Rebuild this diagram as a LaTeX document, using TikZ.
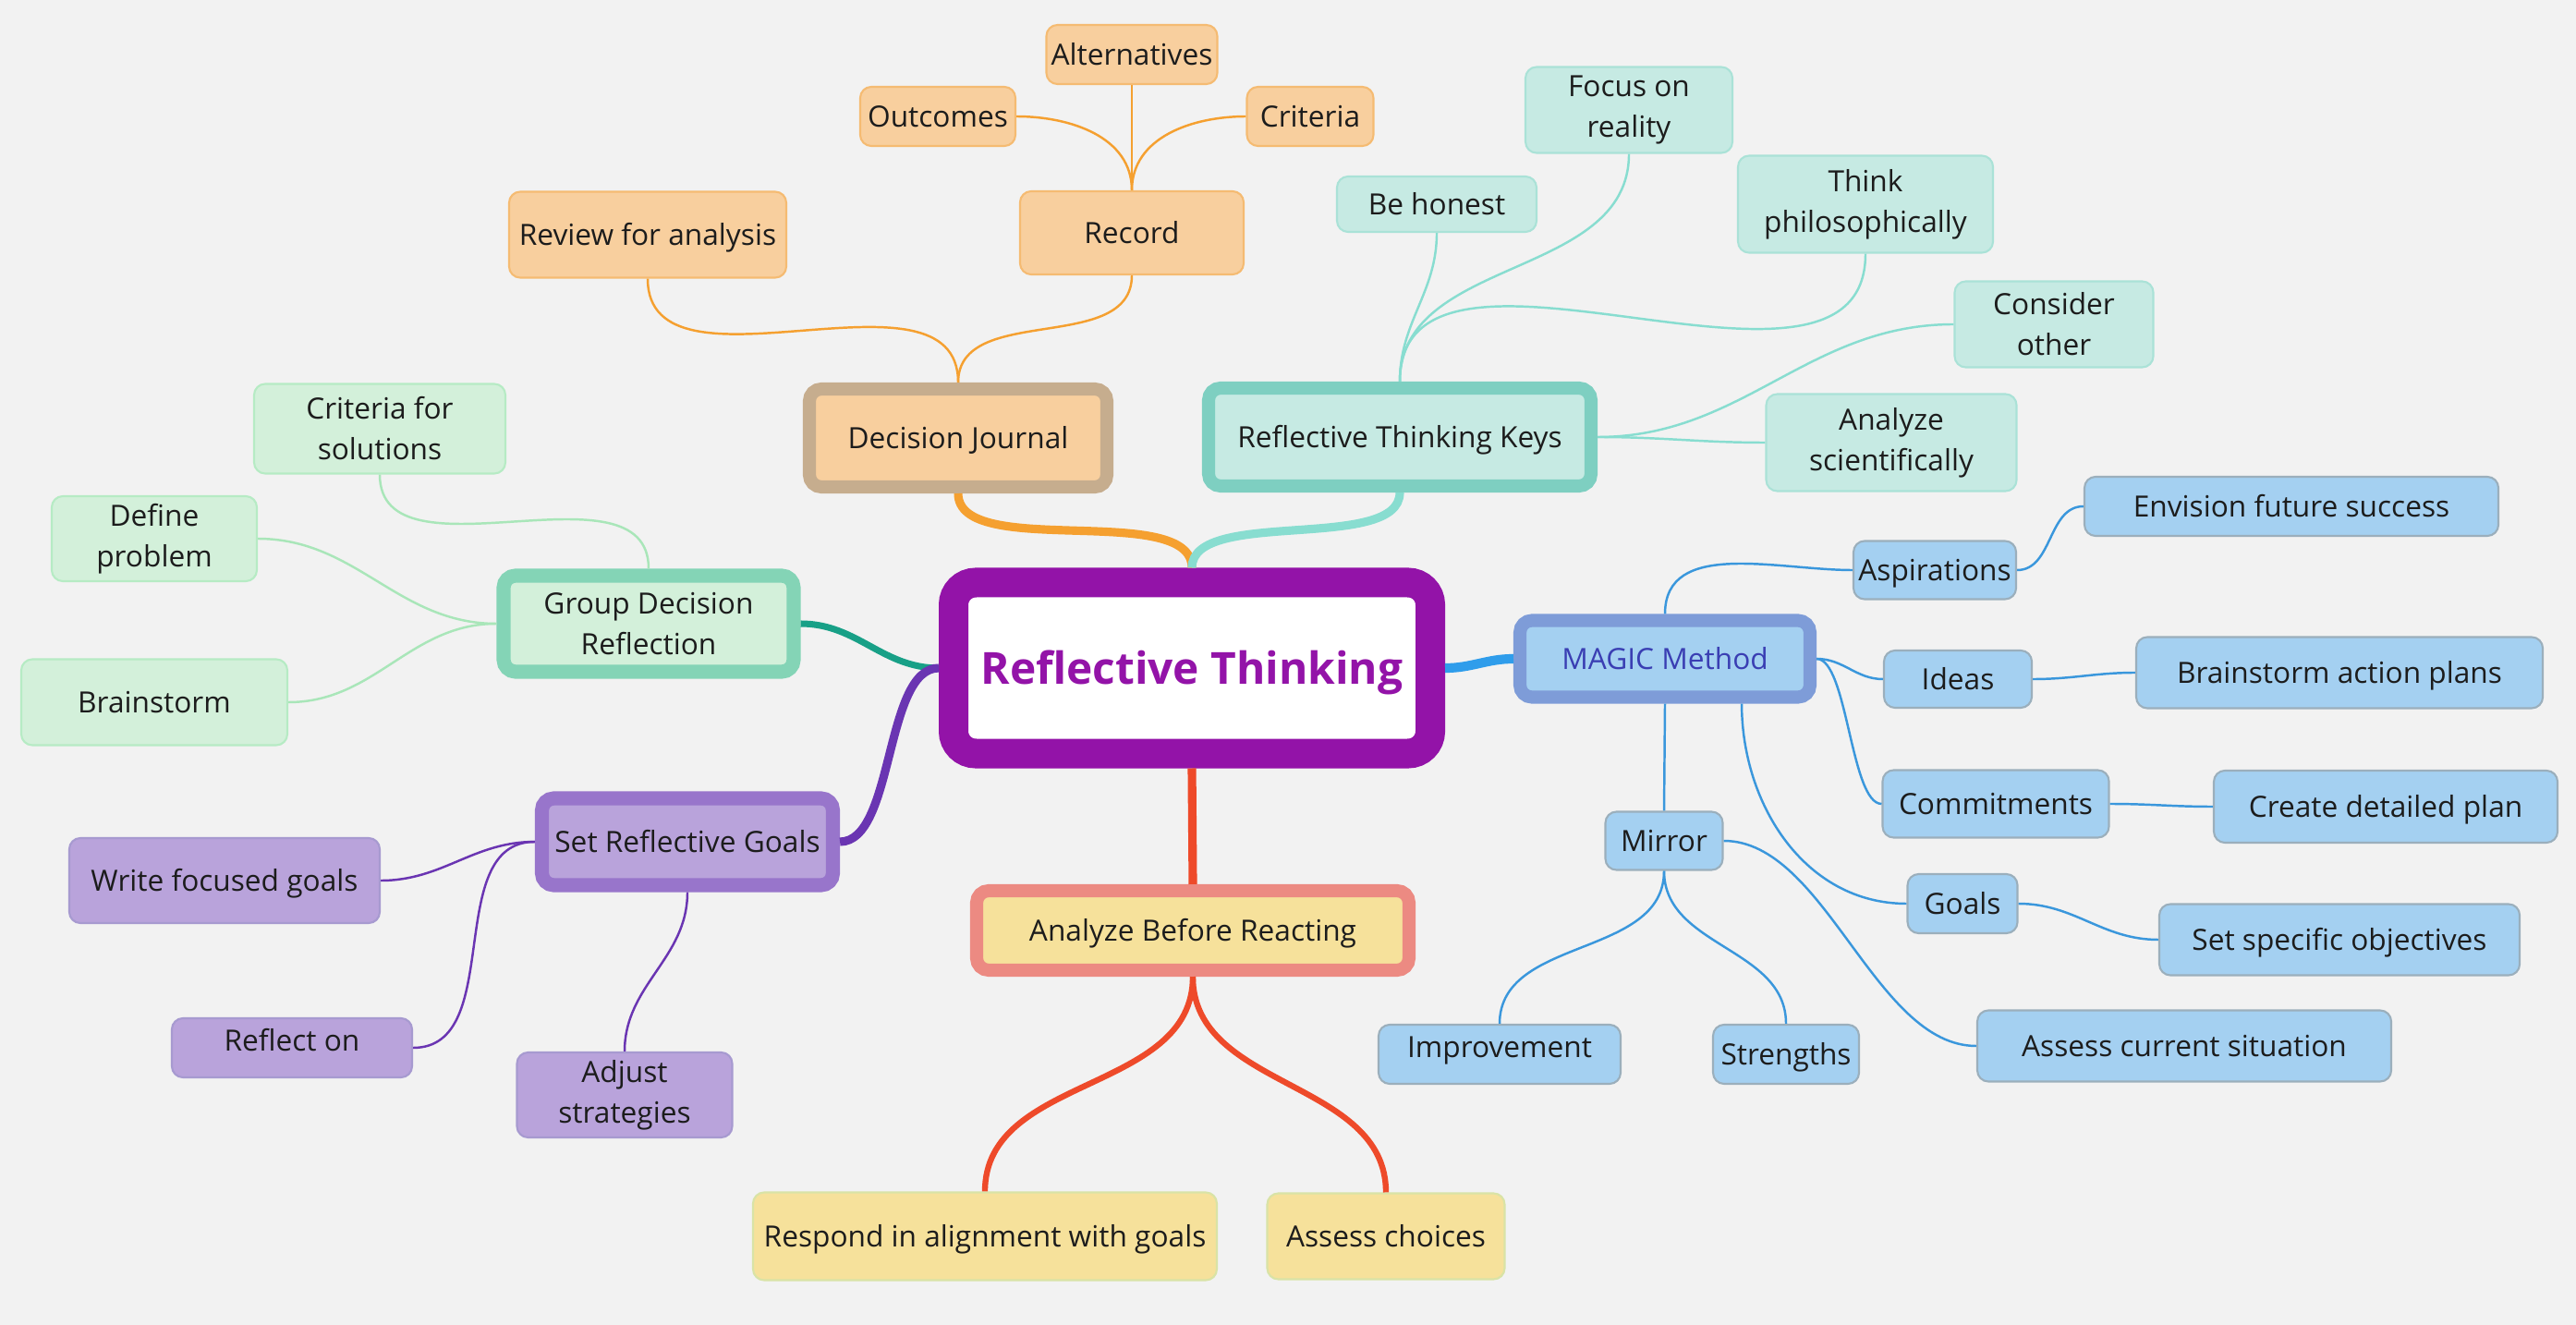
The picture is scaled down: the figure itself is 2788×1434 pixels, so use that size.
\documentclass[tikz,border=0pt]{standalone}
\usepackage{fontspec}
\setmainfont{Open Sans}
\usepackage{tikz}

\definecolor{bgc}{HTML}{F2F2F2}
\definecolor{txt}{HTML}{1C1C1C}
\definecolor{cpurple}{HTML}{9313A8}
\definecolor{orgline}{HTML}{F5A030}
\definecolor{orgfill}{HTML}{F8CF9E}
\definecolor{orgbrd}{HTML}{F5BB72}
\definecolor{djbrd}{HTML}{C6AD8E}
\definecolor{tealline}{HTML}{88DDD0}
\definecolor{tealfill}{HTML}{C6EAE3}
\definecolor{tealbrd}{HTML}{AAE2D7}
\definecolor{keysbrd}{HTML}{7ECFC1}
\definecolor{grnline}{HTML}{A9E6B9}
\definecolor{grnfill}{HTML}{D3F0DA}
\definecolor{grnbrd}{HTML}{B6EBC4}
\definecolor{groupbrd}{HTML}{84D4B6}
\definecolor{grnthick}{HTML}{18A087}
\definecolor{purline}{HTML}{6A35B2}
\definecolor{purfill}{HTML}{B9A3DB}
\definecolor{purbrd}{HTML}{A79AD0}
\definecolor{goalbrd}{HTML}{9875CB}
\definecolor{blueline}{HTML}{3A97DC}
\definecolor{bluefill}{HTML}{A4D0F1}
\definecolor{bluebrd}{HTML}{9BAFBC}
\definecolor{magbrd}{HTML}{7E9CD8}
\definecolor{magtxt}{HTML}{3A3EB3}
\definecolor{bluethick}{HTML}{2F9DEB}
\definecolor{redline}{HTML}{EE4A2A}
\definecolor{yelfill}{HTML}{F6E19B}
\definecolor{yelbrd}{HTML}{D9E3A6}
\definecolor{abrbrd}{HTML}{EC8A82}

\begin{document}
\begin{tikzpicture}[x=0.01cm, y=-0.01cm,
    every node/.style={font=\fontsize{9}{12.5}\selectfont, align=center, inner sep=0pt,
        text=txt, text height=6.43pt, text depth=0pt},
    twoline/.style={text height=, text depth=},
    wh/.style 2 args={minimum width=#1*0.01cm, minimum height=#2*0.01cm},
    leaf/.style 2 args={draw=#1, fill=#2, line width=0.6pt, rounded corners=0.12cm},
    topic/.style 2 args={draw=#1, fill=#2, line width=4pt, rounded corners=0.13cm},
    twig/.style={line width=0.7pt},
    limb/.style={line width=2.6pt}]
    \fill[bgc] (0,0) rectangle (2788,1434);
    \useasboundingbox (0,0) rectangle (2788,1434);

    \node[topic={cpurple}{white}, line width=9.1pt, rounded corners=0.24cm, wh={516}{185},
          font=\fontsize{13.6}{17}\selectfont\bfseries, text=cpurple, text height=9.7pt] (rt) at (1290,723) {Reflective Thinking};

    % Decision Journal
    \node[topic={djbrd}{orgfill}, wh={322}{106}] (journal) at (1037,474) {Decision Journal};
    \node[leaf={orgbrd}{orgfill}, wh={300}{93}] (review) at (701,254) {Review for analysis};
    \node[leaf={orgbrd}{orgfill}, wh={242}{90}] (record) at (1225,252) {Record};
    \node[leaf={orgbrd}{orgfill}, wh={168}{64}] (outcomes) at (1015,126) {Outcomes};
    \node[leaf={orgbrd}{orgfill}, wh={185}{64}] (altern) at (1225,59) {Alternatives};
    \node[leaf={orgbrd}{orgfill}, wh={137}{64}] (criteria) at (1418,126) {Criteria};

    % Reflective Thinking Keys
    \node[topic={keysbrd}{tealfill}, wh={414}{106}] (keys) at (1515,473) {Reflective Thinking Keys};
    \node[leaf={tealbrd}{tealfill}, wh={216}{60}] (honest) at (1555,221) {Be honest};
    \node[leaf={tealbrd}{tealfill}, wh={224}{93}, twoline] (reality) at (1763,119) {Focus on\\reality};
    \node[leaf={tealbrd}{tealfill}, wh={276}{105}, twoline] (philo) at (2019,221) {Think\\philosophically};
    \node[leaf={tealbrd}{tealfill}, wh={215}{93}, twoline] (other) at (2223,351) {Consider\\other};
    \node[leaf={tealbrd}{tealfill}, wh={271}{105}, twoline] (science) at (2047,479) {Analyze\\scientifically};

    % Group Decision Reflection
    \node[topic={groupbrd}{grnfill}, line width=4.3pt, wh={314}{104}, twoline] (group) at (702,675) {Group Decision\\Reflection};
    \node[leaf={grnbrd}{grnfill}, wh={272}{97}, twoline] (critsol) at (411,464) {Criteria for\\solutions};
    \node[leaf={grnbrd}{grnfill}, wh={222}{92}, twoline] (define) at (167,583) {Define\\problem};
    \node[leaf={grnbrd}{grnfill}, wh={288}{93}] (brainst) at (167,760) {Brainstorm};

    % Set Reflective Goals
    \node[topic={goalbrd}{purfill}, line width=4.3pt, wh={315}{94}] (goalset) at (744,911) {Set Reflective Goals};
    \node[leaf={purbrd}{purfill}, wh={336}{92}] (write) at (243,953) {Write focused goals};
    \node[leaf={purbrd}{purfill}, wh={260}{64}, text depth=4.3pt] (reflect) at (316,1134) {Reflect on};
    \node[leaf={purbrd}{purfill}, wh={233}{92}, twoline] (adjust) at (676,1185) {Adjust\\strategies};

    % Analyze Before Reacting
    \node[topic={abrbrd}{yelfill}, wh={468}{86}] (analyze) at (1291,1007) {Analyze Before Reacting};
    \node[leaf={yelbrd}{yelfill}, wh={502}{95}] (respond) at (1066,1338) {Respond in alignment with goals};
    \node[leaf={yelbrd}{yelfill}, wh={257}{93}] (choices) at (1500,1338) {Assess choices};

    % MAGIC Method
    \node[topic={magbrd}{bluefill}, text=magtxt, wh={314}{83}] (magic) at (1802,713) {MAGIC Method};
    \node[leaf={bluebrd}{bluefill}, wh={127}{63}] (mirror) at (1801,910) {Mirror};
    \node[leaf={bluebrd}{bluefill}, wh={262}{64}, text depth=4.5pt] (improve) at (1623,1141) {Improvement};
    \node[leaf={bluebrd}{bluefill}, wh={158}{64}] (strength) at (1933,1141) {Strengths};
    \node[leaf={bluebrd}{bluefill}, wh={448}{77}] (current) at (2364,1132) {Assess current situation};
    \node[leaf={bluebrd}{bluefill}, wh={119}{64}] (goals) at (2124,978) {Goals};
    \node[leaf={bluebrd}{bluefill}, wh={390}{77}] (specific) at (2532,1017) {Set specific objectives};
    \node[leaf={bluebrd}{bluefill}, wh={245}{73}] (commit) at (2160,870) {Commitments};
    \node[leaf={bluebrd}{bluefill}, wh={372}{78}] (plan) at (2582,873) {Create detailed plan};
    \node[leaf={bluebrd}{bluefill}, wh={176}{63}] (aspire) at (2094,617) {Aspirations};
    \node[leaf={bluebrd}{bluefill}, wh={448}{64}] (envision) at (2480,548) {Envision future success};
    \node[leaf={bluebrd}{bluefill}, wh={160}{62}] (ideas) at (2119,735) {Ideas};
    \node[leaf={bluebrd}{bluefill}, wh={440}{77}] (actions) at (2532,728) {Brainstorm action plans};

    % main branches
    \draw[limb, orgline] (rt.north) to[out=90, in=-90, looseness=0.7] (journal.south);
    \draw[limb, tealline] (rt.north) to[out=90, in=-90, looseness=0.7] (keys.south);
    \draw[limb, grnthick, line width=2pt] (rt.west) to[out=180, in=0] (group.east);
    \draw[limb, purline] (rt.west) to[out=180, in=0, looseness=0.7] (goalset.east);
    \draw[limb, bluethick, line width=2.9pt] (rt.east) to[out=0, in=180] (magic.west);
    \draw[limb, redline] (rt.south) -- (analyze.north);

    % sub branches
    \foreach \s/\t in {journal.north/review.south, journal.north/record.south}
        \draw[twig, orgline] (\s) to[out=90, in=-90] (\t);
    \draw[twig, orgline] (record.north) -- (altern.south);
    \draw[twig, orgline] (record.north) to[out=90, in=0] (outcomes.east);
    \draw[twig, orgline] (record.north) to[out=90, in=180] (criteria.west);

    \foreach \t in {honest, reality, philo}
        \draw[twig, tealline] (keys.north) to[out=90, in=-90] (\t.south);
    \foreach \t in {other, science}
        \draw[twig, tealline] (keys.east) to[out=0, in=180] (\t.west);

    \draw[twig, grnline] (group.north) to[out=90, in=-90] (critsol.south);
    \foreach \t in {define, brainst}
        \draw[twig, grnline] (group.west) to[out=180, in=0] (\t.east);

    \foreach \t in {write, reflect}
        \draw[twig, purline] (goalset.west) to[out=180, in=0] (\t.east);
    \draw[twig, purline] (goalset.south) to[out=-90, in=90] (adjust.north);

    \foreach \t in {respond, choices}
        \draw[redline, line width=1.8pt] (analyze.south) to[out=-90, in=90] (\t.north);

    \draw[twig, blueline] (magic.north) to[out=90, in=180] (aspire.west);
    \draw[twig, blueline] (magic.east) to[out=0, in=180] (ideas.west);
    \draw[twig, blueline] (magic.east) to[out=0, in=180, looseness=0.5] (commit.west);
    \draw[twig, blueline] ([xshift=0.83cm]magic.south) to[out=-90, in=180] (goals.west);
    \draw[twig, blueline] (magic.south) -- (mirror.north);
    \foreach \s/\t in {aspire/envision, ideas/actions, commit/plan, goals/specific}
        \draw[twig, blueline] (\s.east) to[out=0, in=180] (\t.west);
    \foreach \t in {improve, strength}
        \draw[twig, blueline] (mirror.south) to[out=-90, in=90] (\t.north);
    \draw[twig, blueline] (mirror.east) to[out=0, in=180, looseness=0.8] (current.west);
\end{tikzpicture}
\end{document}
